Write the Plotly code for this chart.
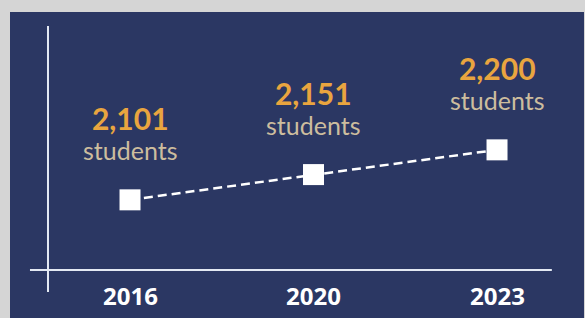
import plotly.graph_objects as go

years = ["2016", "2020", "2023"]
students = [2101, 2151, 2200]
value_labels = ["2,101", "2,151", "2,200"]
unit_label = "students"

NAVY = "#2b3763"
GRAY = "#d5d5d5"
ORANGE = "#e9a53f"
TAN = "#cdbd9e"
LINE = "#e3e9f3"

fig = go.Figure()
fig.add_trace(go.Scatter(
    x=years, y=students, mode="lines+markers",
    line=dict(color="white", width=2.5, dash="9px,5px"),
    marker=dict(symbol="square", size=21, color="white", line=dict(width=0)),
    hoverinfo="skip", cliponaxis=False,
))

for i, (v, lab) in enumerate(zip(students, value_labels)):
    txt = ("<b><span style='font-size:30px'>" + lab + "</span></b><br>"
           "<span style='font-size:25px;color:" + TAN + "'>" + unit_label + "</span>")
    fig.add_annotation(x=i, y=v, xref="x", yref="y", text=txt,
                       showarrow=False, yshift=67,
                       font=dict(family="Lato", size=23, color=ORANGE))

for i, yr in enumerate(years):
    fig.add_annotation(x=i, y=0.075, xref="x", yref="paper", text="<b>" + yr + "</b>",
                       showarrow=False, yanchor="middle",
                       font=dict(family="Open Sans", size=24, color="white"))

fig.add_shape(type="line", xref="paper", yref="paper", x0=0.0662, x1=0.0662, y0=0.085, y1=0.954,
              line=dict(color=LINE, width=2))
fig.add_shape(type="line", xref="paper", yref="paper", x0=0.0348, x1=0.944, y0=0.157, y1=0.157,
              line=dict(color=LINE, width=2))

fig.update_layout(
    width=585, height=318,
    margin=dict(l=10, r=1, t=12, b=0),
    paper_bgcolor=GRAY, plot_bgcolor=NAVY,
    showlegend=False,
    xaxis=dict(visible=False, type="category", range=[-0.654, 2.474]),
    yaxis=dict(visible=False, range=[1867, 2473]),
)

fig.write_html("out.html", config={"displayModeBar": False},
               post_script="document.body.style.margin='0';document.body.style.overflow='hidden';")
